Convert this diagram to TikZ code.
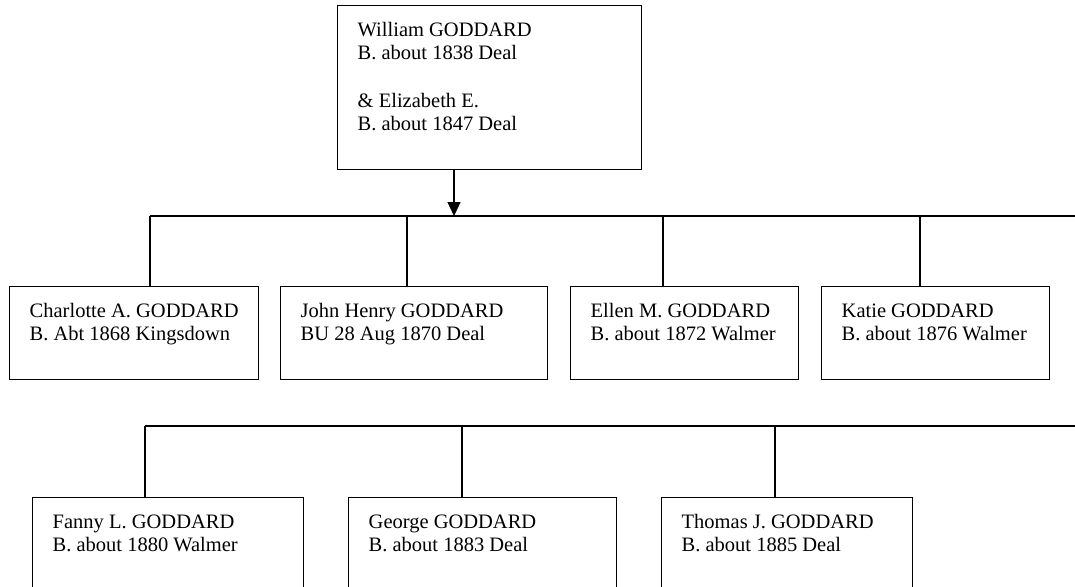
\documentclass[tikz,border=0pt]{standalone}
\usepackage{fontspec}
\setmainfont{Liberation Serif}
\usetikzlibrary{arrows.meta}
\newcommand{\gbox}[3]{\parbox[t][#2pt][t]{#1pt}{\leftskip=20pt\rule{0pt}{30.5pt}#3}}
\begin{document}
\begin{tikzpicture}[x=1pt,y=-1pt,
  person/.style={draw, line width=1.4pt, anchor=north west, inner sep=0pt,
    font=\fontsize{20.5}{23.6}\selectfont},
  link/.style={line width=1.3pt}]
\useasboundingbox (0,0) rectangle (1075,586);
\fill[white] (0,0) rectangle (1075,586);
\begin{scope}
\clip (0,0) rectangle (1075,586);
% parents
\node[person] (w) at (337,5) {\gbox{304}{164}{William GODDARD\\B. about 1838 Deal\\[23.6pt]\& Elizabeth E.\\B. about 1847 Deal}};
% row 1
\node[person] (c1) at (9,286)   {\gbox{249}{93}{Charlotte A. GODDARD\\B. Abt 1868 Kingsdown}};
\node[person] (c2) at (280,286) {\gbox{267}{93}{John Henry GODDARD\\BU 28 Aug 1870 Deal}};
\node[person] (c3) at (570,286) {\gbox{228}{93}{Ellen M. GODDARD\\B. about 1872 Walmer}};
\node[person] (c4) at (821,286) {\gbox{228}{93}{Katie GODDARD\\B. about 1876 Walmer}};
% row 2
\node[person] (c5) at (32,497)  {\gbox{271}{120}{Fanny L. GODDARD\\B. about 1880 Walmer}};
\node[person] (c6) at (348,497) {\gbox{268}{120}{George GODDARD\\B. about 1883 Deal}};
\node[person] (c7) at (661,497) {\gbox{251}{120}{Thomas J. GODDARD\\B. about 1885 Deal}};
% connectors row 1
\coordinate (a) at (454,216);
\coordinate (h1s) at (150,216);
\coordinate (h1e) at (1075,216);
\coordinate (d2) at (407,216);
\coordinate (d3) at (663,216);
\coordinate (d4) at (920,216);
\draw[link] (h1s) -- (h1e);
\draw[link,-{Triangle[width=13pt,length=14pt]}] (w.south -| a) -- (a);
\draw[link] (h1s) -- (h1s |- c1.north);
\draw[link] (d2) -- (d2 |- c2.north);
\draw[link] (d3) -- (d3 |- c3.north);
\draw[link] (d4) -- (d4 |- c4.north);
% connectors row 2
\coordinate (h2s) at (145,426);
\coordinate (h2e) at (1075,426);
\coordinate (e2) at (462,426);
\coordinate (e3) at (775,426);
\draw[link] (h2s) -- (h2e);
\draw[link] (h2s) -- (h2s |- c5.north);
\draw[link] (e2) -- (e2 |- c6.north);
\draw[link] (e3) -- (e3 |- c7.north);
\end{scope}
\end{tikzpicture}
\end{document}
